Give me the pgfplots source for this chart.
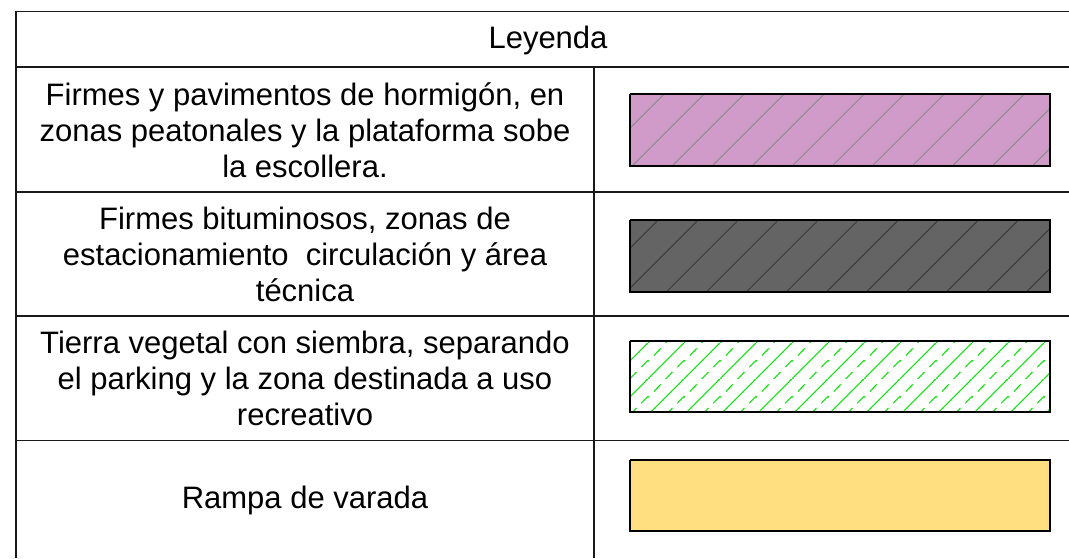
\documentclass[border=0pt]{standalone}
\usepackage{pgfplots}
\pgfplotsset{compat=1.18}
\usepackage{fontspec}
\setmainfont{Liberation Sans}
\usetikzlibrary{patterns.meta}
\definecolor{pinkfill}{RGB}{208,155,200}
\definecolor{pinkline}{RGB}{140,140,140}
\definecolor{darkfill}{RGB}{100,100,100}
\definecolor{darkline}{RGB}{58,58,58}
\definecolor{greenline}{RGB}{20,225,20}
\definecolor{yellowfill}{RGB}{255,223,128}
\tikzdeclarepattern{
  name=greenhatch,
  type=uncolored,
  bounding box={(0pt,0pt) and (36pt,36pt)},
  tile size={(36pt,36pt)},
  code={
    \draw[line width=1.1pt] (-1pt,-1pt) -- (37pt,37pt);
    \draw[line width=1.1pt] (18pt,0pt) -- (25.07pt,7.07pt);
    \draw[line width=1.1pt] (30.02pt,12.02pt) -- (37pt,19pt);
    \draw[line width=1.1pt] (-1pt,17pt) -- (1.06pt,19.06pt);
    \draw[line width=1.1pt] (6.01pt,24.01pt) -- (13.08pt,31.08pt);
  }
}
\begin{document}
\begin{tikzpicture}
\begin{axis}[
  scale only axis, width=1069pt, height=558pt,
  xmin=0, xmax=1069, ymin=0, ymax=558,
  y dir=reverse, hide axis, clip=true,
]
% table rules
\addplot[draw=black!90, line width=1.3pt] coordinates {(16,11.5) (1069,11.5)};
\addplot[draw=black!90, line width=1.3pt] coordinates {(16,67) (1069,67)};
\addplot[draw=black!90, line width=1.3pt] coordinates {(16,192) (1069,192)};
\addplot[draw=black!90, line width=1.3pt] coordinates {(16,316) (1069,316)};
\addplot[draw=black!90, line width=1.3pt] coordinates {(16,440.5) (1069,440.5)};
\addplot[draw=black!90, line width=1.3pt] coordinates {(16,10.9) (16,558)};
\addplot[draw=black!90, line width=1.3pt] coordinates {(594,67) (594,558)};
% swatches
\addplot[draw=black, line width=1.2pt, fill=pinkfill,
  postaction={pattern={Lines[angle=45,distance=28.3pt,line width=1pt]}, pattern color=pinkline}]
  coordinates {(630,94) (1050,94) (1050,166) (630,166) (630,94)};
\addplot[draw=black, line width=1.2pt, fill=darkfill,
  postaction={pattern={Lines[angle=45,distance=28.3pt,line width=1pt]}, pattern color=darkline}]
  coordinates {(630,220) (1050,220) (1050,292) (630,292) (630,220)};
\addplot[draw=black, line width=1.2pt, fill=white,
  postaction={pattern=greenhatch, pattern color=greenline}]
  coordinates {(630,341) (1050,341) (1050,412) (630,412) (630,341)};
\addplot[draw=black, line width=1.2pt, fill=yellowfill]
  coordinates {(630,460) (1050,460) (1050,531) (630,531) (630,460)};
% texts
\node[font=\fontsize{31}{36}\selectfont, anchor=center] at (axis cs:548,40) {Leyenda};
\node[font=\fontsize{31}{36}\selectfont, align=center, anchor=center] at (axis cs:305,130)
  {Firmes y pavimentos de hormigón, en\\zonas peatonales y la plataforma sobe\\la escollera.};
\node[font=\fontsize{31}{36}\selectfont, align=center, anchor=center] at (axis cs:305,254)
  {Firmes bituminosos, zonas de\\estacionamiento\ \ circulación y área\\técnica};
\node[font=\fontsize{31}{36}\selectfont, align=center, anchor=center] at (axis cs:305,378)
  {Tierra vegetal con siembra, separando\\el parking y la zona destinada a uso\\recreativo};
\node[font=\fontsize{31}{36}\selectfont, anchor=center] at (axis cs:305,500) {Rampa de varada};
\end{axis}
\path (current axis.south west) rectangle (current axis.north east);
\end{tikzpicture}
\end{document}
